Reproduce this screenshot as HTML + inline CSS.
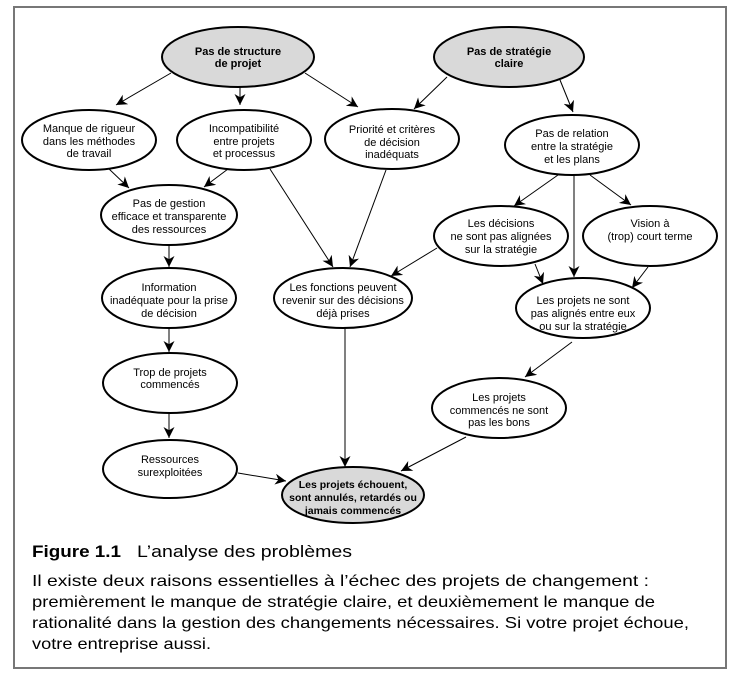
<!DOCTYPE html>
<html><head><meta charset="utf-8"><style>
html,body{margin:0;padding:0;background:#fff;}
svg{display:block;}
text{font-family:"Liberation Sans",Arial,sans-serif;}
</style></head><body>
<svg width="744" height="683" viewBox="0 0 744 683" xmlns="http://www.w3.org/2000/svg">
<defs>
<marker id="a" viewBox="0 0 10 10" refX="10" refY="5" markerWidth="11" markerHeight="11" markerUnits="userSpaceOnUse" orient="auto">
<path d="M0,0 L10,5 L0,10 L3,5 z" fill="#000"/>
</marker>
</defs>
<rect x="14" y="7" width="712" height="661" fill="#fff" stroke="#777" stroke-width="2"/>
<g stroke="#000" stroke-width="1" fill="none" marker-end="url(#a)">
<line x1="171" y1="73" x2="116" y2="105"/>
<line x1="240" y1="87" x2="240" y2="105"/>
<line x1="305" y1="73" x2="358" y2="107"/>
<line x1="447" y1="77" x2="414" y2="109"/>
<line x1="560" y1="80" x2="573" y2="112"/>
<line x1="108" y1="168" x2="129" y2="188"/>
<line x1="228" y1="169" x2="204" y2="187"/>
<line x1="270" y1="169" x2="333" y2="267"/>
<line x1="386" y1="170" x2="350" y2="267"/>
<line x1="558" y1="175" x2="514" y2="206"/>
<line x1="574" y1="175" x2="574" y2="277"/>
<line x1="590" y1="175" x2="631" y2="205"/>
<line x1="437" y1="248" x2="391" y2="276"/>
<line x1="535" y1="264" x2="543" y2="284"/>
<line x1="648" y1="267" x2="632" y2="288"/>
<line x1="169" y1="245" x2="169" y2="267"/>
<line x1="169" y1="328" x2="169" y2="352"/>
<line x1="169" y1="413" x2="169" y2="438"/>
<line x1="345" y1="328" x2="345" y2="467"/>
<line x1="238" y1="473" x2="286" y2="481"/>
<line x1="572" y1="342" x2="525" y2="377"/>
<line x1="466" y1="437" x2="401" y2="471"/>
</g>
<g stroke="#000" stroke-width="2">
<ellipse cx="238" cy="57" rx="76" ry="30" fill="#d9d9d9"/>
<ellipse cx="509" cy="57" rx="75" ry="30" fill="#d9d9d9"/>
<ellipse cx="89" cy="140" rx="67" ry="30" fill="#fff"/>
<ellipse cx="244" cy="140" rx="67" ry="30" fill="#fff"/>
<ellipse cx="392" cy="139" rx="67" ry="30" fill="#fff"/>
<ellipse cx="572" cy="145" rx="67" ry="30" fill="#fff"/>
<ellipse cx="169" cy="215" rx="68" ry="30" fill="#fff"/>
<ellipse cx="501" cy="236" rx="67" ry="30" fill="#fff"/>
<ellipse cx="650" cy="236" rx="67" ry="30" fill="#fff"/>
<ellipse cx="169" cy="298" rx="67" ry="30" fill="#fff"/>
<ellipse cx="343" cy="298" rx="69" ry="30" fill="#fff"/>
<ellipse cx="583" cy="308" rx="67" ry="30" fill="#fff"/>
<ellipse cx="170" cy="383" rx="67" ry="30" fill="#fff"/>
<ellipse cx="499" cy="408" rx="67" ry="30" fill="#fff"/>
<ellipse cx="170" cy="469" rx="67" ry="29" fill="#fff"/>
<ellipse cx="353" cy="495" rx="71" ry="28" fill="#d9d9d9"/>
</g>
<g font-size="11" text-anchor="middle" fill="#000">
<text x="238" y="55" font-weight="bold">Pas de structure</text><text x="238" y="67" font-weight="bold">de projet</text>
<text x="509" y="55" font-weight="bold">Pas de stratégie</text><text x="509" y="67" font-weight="bold">claire</text>
<text x="89" y="132">Manque de rigueur</text><text x="89" y="145">dans les méthodes</text><text x="89" y="157">de travail</text>
<text x="244" y="132">Incompatibilité</text><text x="244" y="145">entre projets</text><text x="244" y="157">et processus</text>
<text x="392" y="133">Priorité et critères</text><text x="392" y="146">de décision</text><text x="392" y="158">inadéquats</text>
<text x="572" y="137">Pas de relation</text><text x="572" y="150">entre la stratégie</text><text x="572" y="163">et les plans</text>
<text x="169" y="207">Pas de gestion</text><text x="169" y="220">efficace et transparente</text><text x="169" y="233">des ressources</text>
<text x="501" y="227">Les décisions</text><text x="501" y="240">ne sont pas alignées</text><text x="501" y="253">sur la stratégie</text>
<text x="650" y="227">Vision à</text><text x="650" y="240">(trop) court terme</text>
<text x="169" y="291">Information</text><text x="169" y="304">inadéquate pour la prise</text><text x="169" y="317">de décision</text>
<text x="343" y="291">Les fonctions peuvent</text><text x="343" y="304">revenir sur des décisions</text><text x="343" y="317">déjà prises</text>
<text x="583" y="304">Les projets ne sont</text><text x="583" y="317">pas alignés entre eux</text><text x="583" y="330">ou sur la stratégie</text>
<text x="170" y="376">Trop de projets</text><text x="170" y="388">commencés</text>
<text x="499" y="401">Les projets</text><text x="499" y="414">commencés ne sont</text><text x="499" y="426">pas les bons</text>
<text x="170" y="463">Ressources</text><text x="170" y="476">surexploitées</text>
<text x="353" y="488" font-weight="bold" font-size="10.5">Les projets échouent,</text><text x="353" y="501" font-weight="bold" font-size="10.5">sont annulés, retardés ou</text><text x="353" y="514" font-weight="bold" font-size="10.5">jamais commencés</text>
</g>
<g fill="#000">
<text x="32" y="557" font-size="17" font-weight="bold" textLength="89" lengthAdjust="spacingAndGlyphs">Figure 1.1</text>
<text x="137" y="557" font-size="17" textLength="215" lengthAdjust="spacingAndGlyphs">L’analyse des problèmes</text>
<text x="32" y="586" font-size="16" textLength="617" lengthAdjust="spacingAndGlyphs">Il existe deux raisons essentielles à l’échec des projets de changement :</text>
<text x="32" y="607" font-size="16" textLength="623" lengthAdjust="spacingAndGlyphs">premièrement le manque de stratégie claire, et deuxièmement le manque de</text>
<text x="32" y="628" font-size="16" textLength="657" lengthAdjust="spacingAndGlyphs">rationalité dans la gestion des changements nécessaires. Si votre projet échoue,</text>
<text x="32" y="649" font-size="16" textLength="179" lengthAdjust="spacingAndGlyphs">votre entreprise aussi.</text>
</g>
</svg>
</body></html>
